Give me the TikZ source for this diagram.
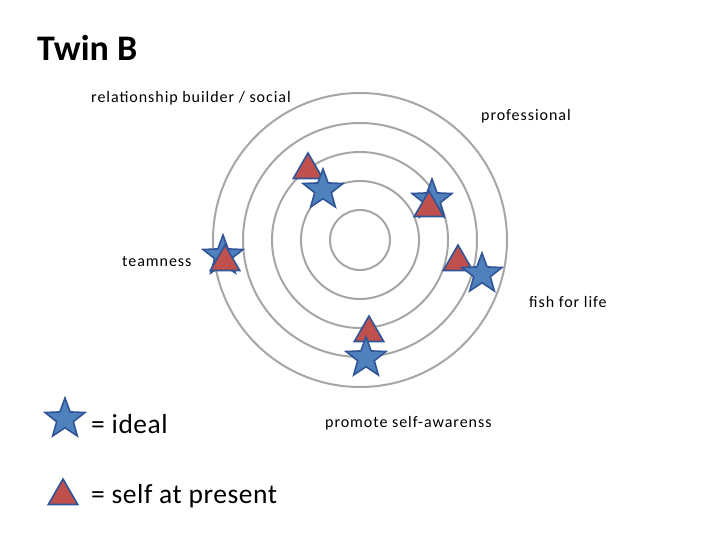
\documentclass[tikz,border=0pt]{standalone}
\usepackage{fontspec}
\setmainfont{Carlito}
\newfontfamily\lblfont[LetterSpace=6]{Carlito}
\newfontfamily\legfont[LetterSpace=2]{Carlito}
\usetikzlibrary{shapes.geometric}
\definecolor{ringgray}{HTML}{A6A6A6}
\definecolor{starblue}{HTML}{4F81BD}
\definecolor{edgeblue}{HTML}{2F5597}
\definecolor{trired}{HTML}{C0504D}
\tikzset{
  ring/.style={draw=ringgray, line width=2pt},
  idealstar/.style={star, star points=5, star point ratio=2.4, minimum size=42pt, inner sep=0pt,
    fill=starblue, draw=edgeblue, line width=1.6pt},
  selftri/.style={regular polygon, regular polygon sides=3, minimum size=34pt, inner sep=0pt,
    fill=trired, draw=edgeblue, line width=1.6pt},
  lbl/.style={anchor=base west, inner sep=0pt, font=\lblfont\fontsize{16}{19}\selectfont},
  legendtxt/.style={anchor=base west, inner sep=0pt, font=\legfont\fontsize{27.5}{32}\selectfont},
}
\begin{document}
\begin{tikzpicture}[x=1pt,y=-1pt]
\useasboundingbox (0,0) rectangle (720,540);
\coordinate (c) at (360,240);
\foreach \r in {30,59,88,117,147} \draw[ring] (c) circle[radius=\r];
% markers
\node[selftri] (t1) at (308,170) {};
\node[idealstar] (s1) at (323,190) {};
\node[idealstar] (s2) at (432,200) {};
\node[selftri] (t2) at (429,208) {};
\node[idealstar] (s3) at (223,256) {};
\node[selftri] (t3) at (225,262) {};
\node[selftri] (t4) at (458,262) {};
\node[idealstar] (s4) at (482,274) {};
\node[selftri] (t5) at (369,333) {};
\node[idealstar] (s5) at (366,358) {};
% labels
\node[anchor=base west, inner sep=0pt, font=\fontsize{36}{42}\selectfont\bfseries] (title) at (37,61) {Twin B};
\node[lbl] (l1) at (91,103) {relationship builder / social};
\node[lbl] (l2) at (481,121) {professional};
\node[lbl] (l3) at (122,266) {teamness};
\node[lbl] (l4) at (529,307) {fish for life};
\node[lbl] (l5) at (325,427) {promote self-awarenss};
% legend
\node[idealstar] (ls) at (65,419) {};
\node[selftri] (lt) at (63,496) {};
\node[legendtxt] (lg1) at (91,433) {= ideal};
\node[legendtxt] (lg2) at (91,503) {= self at present};
\end{tikzpicture}
\end{document}
